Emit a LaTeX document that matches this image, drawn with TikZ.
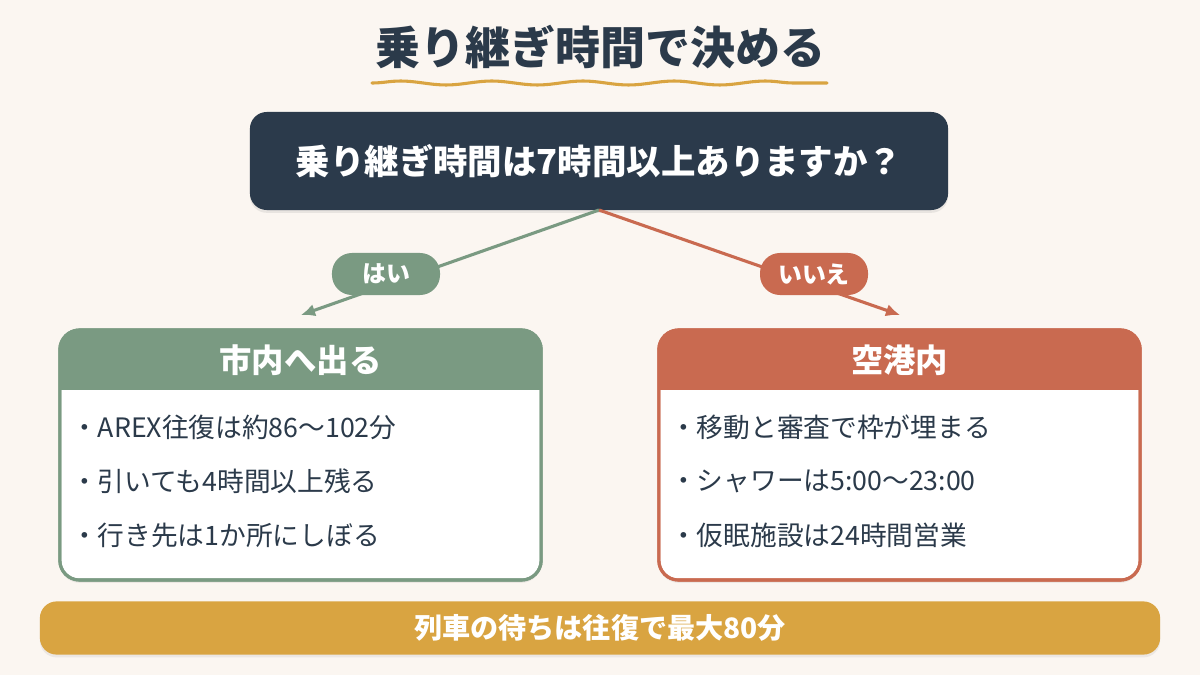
\documentclass[tikz,border=0pt]{standalone}
\usepackage{fontspec}
\setmainfont{Noto Sans CJK JP}
\usetikzlibrary{arrows.meta,positioning,calc,shadows,decorations.pathmorphing}

\definecolor{bgcream}{HTML}{FBF6F1}
\definecolor{navy}{HTML}{2B3A4B}
\definecolor{sage}{HTML}{7A9A82}
\definecolor{rust}{HTML}{C96A50}
\definecolor{gold}{HTML}{D9A441}
\definecolor{inkdark}{HTML}{2B3A4A}

\begin{document}
\begin{tikzpicture}[x=0.025cm, y=-0.025cm, >={Latex[length=10pt,width=9pt]},
  cardbox/.style={draw=#1, line width=2.2pt, fill=white, rounded corners=14pt,
    minimum width=12.03cm, minimum height=6.25cm, inner sep=0pt, outer sep=0pt,
    drop shadow={opacity=0.12, shadow xshift=0pt, shadow yshift=-2pt}},
  cardhead/.style={text=white, font=\fontsize{23}{27}\selectfont\bfseries},
  bullet/.style={anchor=west, text=inkdark, inner sep=0pt, font=\fontsize{19}{23}\selectfont},
  pill/.style={fill=#1, text=white, rounded corners=0.5cm, minimum width=2.7cm,
    minimum height=1.05cm, inner sep=0pt, font=\fontsize{17}{21}\selectfont\bfseries},
  branch/.style={draw=#1, line width=2.2pt, ->}]

% background
\fill[bgcream] (0,0) rectangle (1200,675);
\useasboundingbox (0,0) rectangle (1200,675);

%--------------------
% Title with wavy underline
%--------------------
\node[text=inkdark, font=\fontsize{32}{37}\selectfont\bfseries] (title) at (600,47) {乗り継ぎ時間で決める};
\coordinate (wavL) at (372,83);
\coordinate (wavR) at (827,83);
\draw[gold, line width=2.2pt, line cap=round, decorate,
  decoration={snake, amplitude=1.4pt, segment length=2.28cm}] (wavL) -- (wavR);

%--------------------
% Question
%--------------------
\node[fill=navy, text=white, rounded corners=12pt, minimum width=17.45cm, minimum height=2.45cm,
  inner sep=0pt, outer sep=0pt, font=\fontsize{24.5}{29}\selectfont\bfseries,
  drop shadow={opacity=0.15, shadow xshift=0pt, shadow yshift=-2pt}]
  (quest) at (599,161) {乗り継ぎ時間は7時間以上ありますか？};

% branch ends
\coordinate (yesEnd) at (301,315);
\coordinate (noEnd) at (900,315);
\draw[branch=sage] (quest.south) -- (yesEnd);
\draw[branch=rust] (quest.south) -- (noEnd);

\node[pill=sage] (yes) at (386,274) {はい};
\node[pill=rust] (no) at (814,274) {いいえ};

%--------------------
% Left card: city
%--------------------
\node[cardbox=sage] (city) at (300.5,455) {};
\begin{scope}
  \clip[rounded corners=14pt] (city.south west) rectangle (city.north east);
  \fill[sage] (city.north west) rectangle ($(city.north east)+(0,60)$);
\end{scope}
\draw[sage, line width=2.2pt, rounded corners=14pt] (city.south west) rectangle (city.north east);
\node[cardhead] (cityHead) at ($(city.north)+(0,30)$) {市内へ出る};
\foreach \txt [count=\i] in {・AREX往復は約86〜102分, ・引いても4時間以上残る, ・行き先は1か所にしぼる}
  \node[bullet] (city\i) at ($(city.north west)+(11,43+54*\i)$) {\txt};

%--------------------
% Right card: airport
%--------------------
\node[cardbox=rust] (port) at (899.5,455) {};
\begin{scope}
  \clip[rounded corners=14pt] (port.south west) rectangle (port.north east);
  \fill[rust] (port.north west) rectangle ($(port.north east)+(0,60)$);
\end{scope}
\draw[rust, line width=2.2pt, rounded corners=14pt] (port.south west) rectangle (port.north east);
\node[cardhead] (portHead) at ($(port.north)+(0,30)$) {空港内};
\foreach \txt [count=\i] in {・移動と審査で枠が埋まる, ・シャワーは5:00〜23:00, ・仮眠施設は24時間営業}
  \node[bullet] (port\i) at ($(port.north west)+(11,43+54*\i)$) {\txt};

%--------------------
% Bottom note
%--------------------
\node[fill=gold, text=white, rounded corners=12pt, minimum width=28cm, minimum height=1.33cm,
  inner sep=0pt, font=\fontsize{20}{24}\selectfont\bfseries,
  drop shadow={opacity=0.12, shadow xshift=0pt, shadow yshift=-2pt}]
  (note) at (600,628) {列車の待ちは往復で最大80分};

\end{tikzpicture}
\end{document}
